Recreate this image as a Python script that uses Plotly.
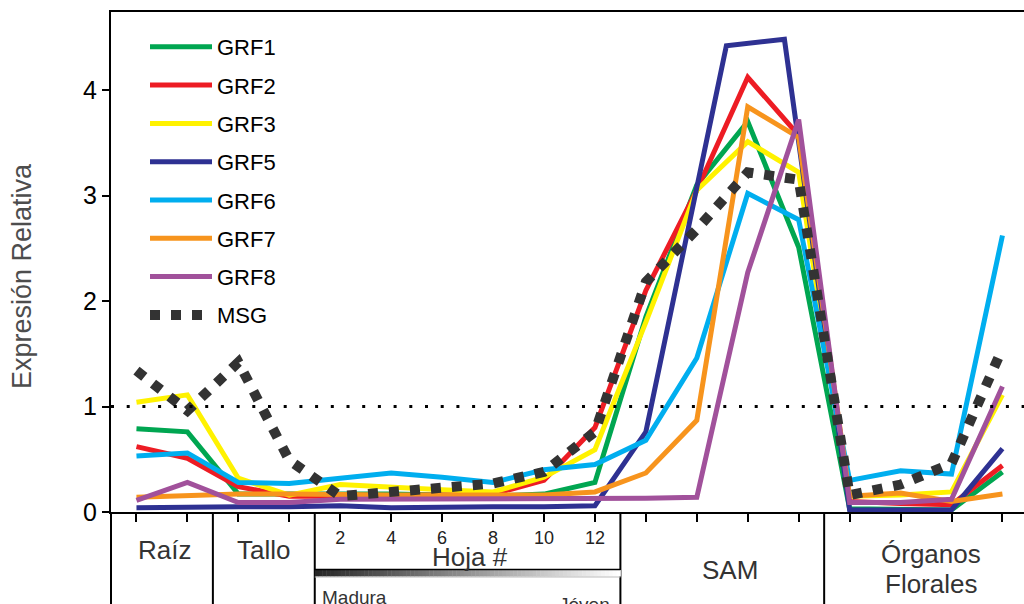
import plotly.graph_objects as go

# ---------------- data ----------------
x_pos = list(range(18))
tick_text = ['', '', '', '', '2', '4', '6', '8', '10', '12', '', '', '', '', '', '', '', '']
group_names = ['Raíz', 'Tallo', 'Hoja #', 'SAM', 'Órganos', 'Florales']
group_centers = [0.55, 2.5, 6.55, 11.65, 15.6, 15.6]

GRF1 = [0.79, 0.76, 0.17, 0.17, 0.18, 0.17, 0.16, 0.15, 0.17, 0.28, 1.85, 3.10, 3.70, 2.51, 0.03, 0.03, 0.02, 0.38]
GRF2 = [0.62, 0.51, 0.24, 0.15, 0.15, 0.15, 0.16, 0.17, 0.30, 0.80, 2.10, 3.05, 4.12, 3.57, 0.10, 0.08, 0.07, 0.44]
GRF3 = [1.04, 1.11, 0.32, 0.16, 0.26, 0.23, 0.21, 0.19, 0.33, 0.59, 1.80, 3.05, 3.51, 3.22, 0.15, 0.16, 0.19, 1.11]
GRF5_x = [0, 1, 2, 3, 4, 5, 6, 7, 8, 9, 10, 11.58, 12.72, 14, 15, 16, 17]
GRF5 = [0.04, 0.05, 0.05, 0.05, 0.06, 0.04, 0.05, 0.05, 0.05, 0.06, 0.76, 4.42, 4.48, 0.02, 0.02, 0.02, 0.60]
GRF6 = [0.53, 0.56, 0.28, 0.27, 0.32, 0.37, 0.33, 0.28, 0.40, 0.45, 0.68, 1.46, 3.02, 2.77, 0.30, 0.39, 0.36, 2.62]
GRF7 = [0.14, 0.16, 0.17, 0.17, 0.16, 0.16, 0.16, 0.16, 0.16, 0.19, 0.37, 0.87, 3.84, 3.55, 0.15, 0.18, 0.10, 0.17]
GRF8 = [0.11, 0.28, 0.09, 0.09, 0.12, 0.12, 0.12, 0.12, 0.12, 0.12, 0.13, 0.14, 2.27, 3.72, 0.09, 0.09, 0.12, 1.19]
MSG = [1.34, 0.96, 1.42, 0.49, 0.15, 0.20, 0.23, 0.27, 0.38, 0.76, 2.18, 2.68, 3.22, 3.15, 0.16, 0.26, 0.46, 1.55]

series = [
    ('GRF1', x_pos, GRF1, '#00A651'),
    ('GRF2', x_pos, GRF2, '#ED1C24'),
    ('GRF3', x_pos, GRF3, '#FFF200'),
    ('GRF5', GRF5_x, GRF5, '#2E3192'),
    ('GRF6', x_pos, GRF6, '#00AEEF'),
    ('GRF7', x_pos, GRF7, '#F7941D'),
    ('GRF8', x_pos, GRF8, '#A1519B'),
]

# ---------------- geometry ----------------
W, H = 1024, 604
ML, MT, MB = 111, 12, 92
PLOT_W = W - ML
PLOT_H = H - MT - MB
UNIT = 50.94
XMIN = -0.5
XMAX = XMIN + PLOT_W / UNIT
YMAX = PLOT_H / 105.5

def xp(v):  # data x -> paper
    return (v - XMIN) / (XMAX - XMIN)

def yp(py):  # pixel y -> paper
    return (H - MB - py) / PLOT_H

FONT = 'Liberation Sans, Arial, sans-serif'

fig = go.Figure()
for i, (name, xs, ys, col) in enumerate(series):
    fig.add_trace(go.Scatter(x=xs, y=ys, mode='lines', name=name, legendgroup=name,
                             line=dict(color=col, width=5)))
fig.add_trace(go.Scatter(x=x_pos, y=MSG, mode='lines', name='MSG', legendgroup='MSG',
                         line=dict(color='#333333', width=10, dash='10px,11px')))

shapes = []
# reference line at 1
shapes.append(dict(type='line', xref='paper', yref='y', x0=0, x1=1, y0=1, y1=1,
                   line=dict(color='black', width=3, dash='3px,12.7px')))
# dividers below the axis
for xv in [XMIN, 1.5, 3.5, 9.5, 13.5]:
    shapes.append(dict(type='line', xref='paper', yref='paper', x0=xp(xv), x1=xp(xv),
                       y0=0, y1=yp(H + 2), line=dict(color='black', width=2)))
# gradient bar under Hoja #
n = 80
x0g, x1g = 3.5, 9.5
for k in range(n):
    t = k / (n - 1)
    g = int(38 + (255 - 38) * t)
    a = x0g + (x1g - x0g) * k / n
    b = x0g + (x1g - x0g) * (k + 1) / n
    shapes.append(dict(type='rect', xref='paper', yref='paper', x0=xp(a), x1=xp(b) + 0.0005,
                       y0=yp(576.5), y1=yp(570), line=dict(width=0),
                       fillcolor='rgb(%d,%d,%d)' % (g, g, g)))
shapes.append(dict(type='line', xref='paper', yref='paper', x0=xp(x0g), x1=xp(x1g),
                   y0=yp(569.5), y1=yp(569.5), line=dict(color='black', width=1.5)))
shapes.append(dict(type='line', xref='paper', yref='paper', x0=xp(x0g), x1=xp(x1g),
                   y0=yp(577), y1=yp(577), line=dict(color='#bbbbbb', width=1)))

ann = []
label_y = [550, 550, 557, 570, 554, 584]
for name, cx, py in zip(group_names, group_centers, label_y):
    ann.append(dict(text=name, x=cx, xref='x', y=yp(py), yref='paper', showarrow=False,
                    xanchor='center', yanchor='middle', font=dict(family=FONT, size=26, color='#333333')))
ann.append(dict(text='Madura', x=xp(3.5) + 5 / PLOT_W, xref='paper', y=yp(597), yref='paper',
                showarrow=False, xanchor='left', yanchor='middle',
                font=dict(family=FONT, size=19, color='#333333')))
ann.append(dict(text='Jóven', x=xp(9.5) - 8 / PLOT_W, xref='paper', y=yp(604), yref='paper',
                showarrow=False, xanchor='right', yanchor='middle',
                font=dict(family=FONT, size=19, color='#333333')))
ann.append(dict(text='Expresión Relativa', x=(22 - ML) / PLOT_W, xref='paper', y=yp(276), yref='paper',
                showarrow=False, textangle=-90, xanchor='center', yanchor='middle',
                font=dict(family=FONT, size=27, color='#4d4d4d')))

fig.update_layout(
    width=W, height=H,
    margin=dict(l=ML, r=0, t=MT, b=MB, pad=0),
    paper_bgcolor='white', plot_bgcolor='white',
    font=dict(family=FONT, color='black'),
    showlegend=True,
    legend=dict(x=(145 - ML) / PLOT_W, y=yp(26), xanchor='left', yanchor='top',
                bgcolor='rgba(0,0,0,0)', borderwidth=0, itemwidth=62, tracegroupgap=6.7,
                font=dict(family=FONT, size=22, color='black'), traceorder='grouped'),
    xaxis=dict(range=[XMIN, XMAX], tickvals=x_pos, ticktext=tick_text, ticks='outside',
               ticklen=8, tickwidth=2, tickcolor='black', showline=True, linecolor='black',
               linewidth=2, mirror=True, showgrid=False, zeroline=False,
               tickfont=dict(family=FONT, size=18, color='#222222')),
    yaxis=dict(range=[0, YMAX], tickvals=[0, 1, 2, 3, 4], ticks='outside', ticklen=7,
               tickwidth=2, tickcolor='black', showline=True, linecolor='black', linewidth=2,
               showgrid=False, zeroline=False, tickfont=dict(family=FONT, size=25, color='black')),
    shapes=shapes, annotations=ann,
)

fig.write_html('out.html', config={'displayModeBar': False},
               post_script="document.body.style.margin='0';document.body.style.overflow='hidden';")
